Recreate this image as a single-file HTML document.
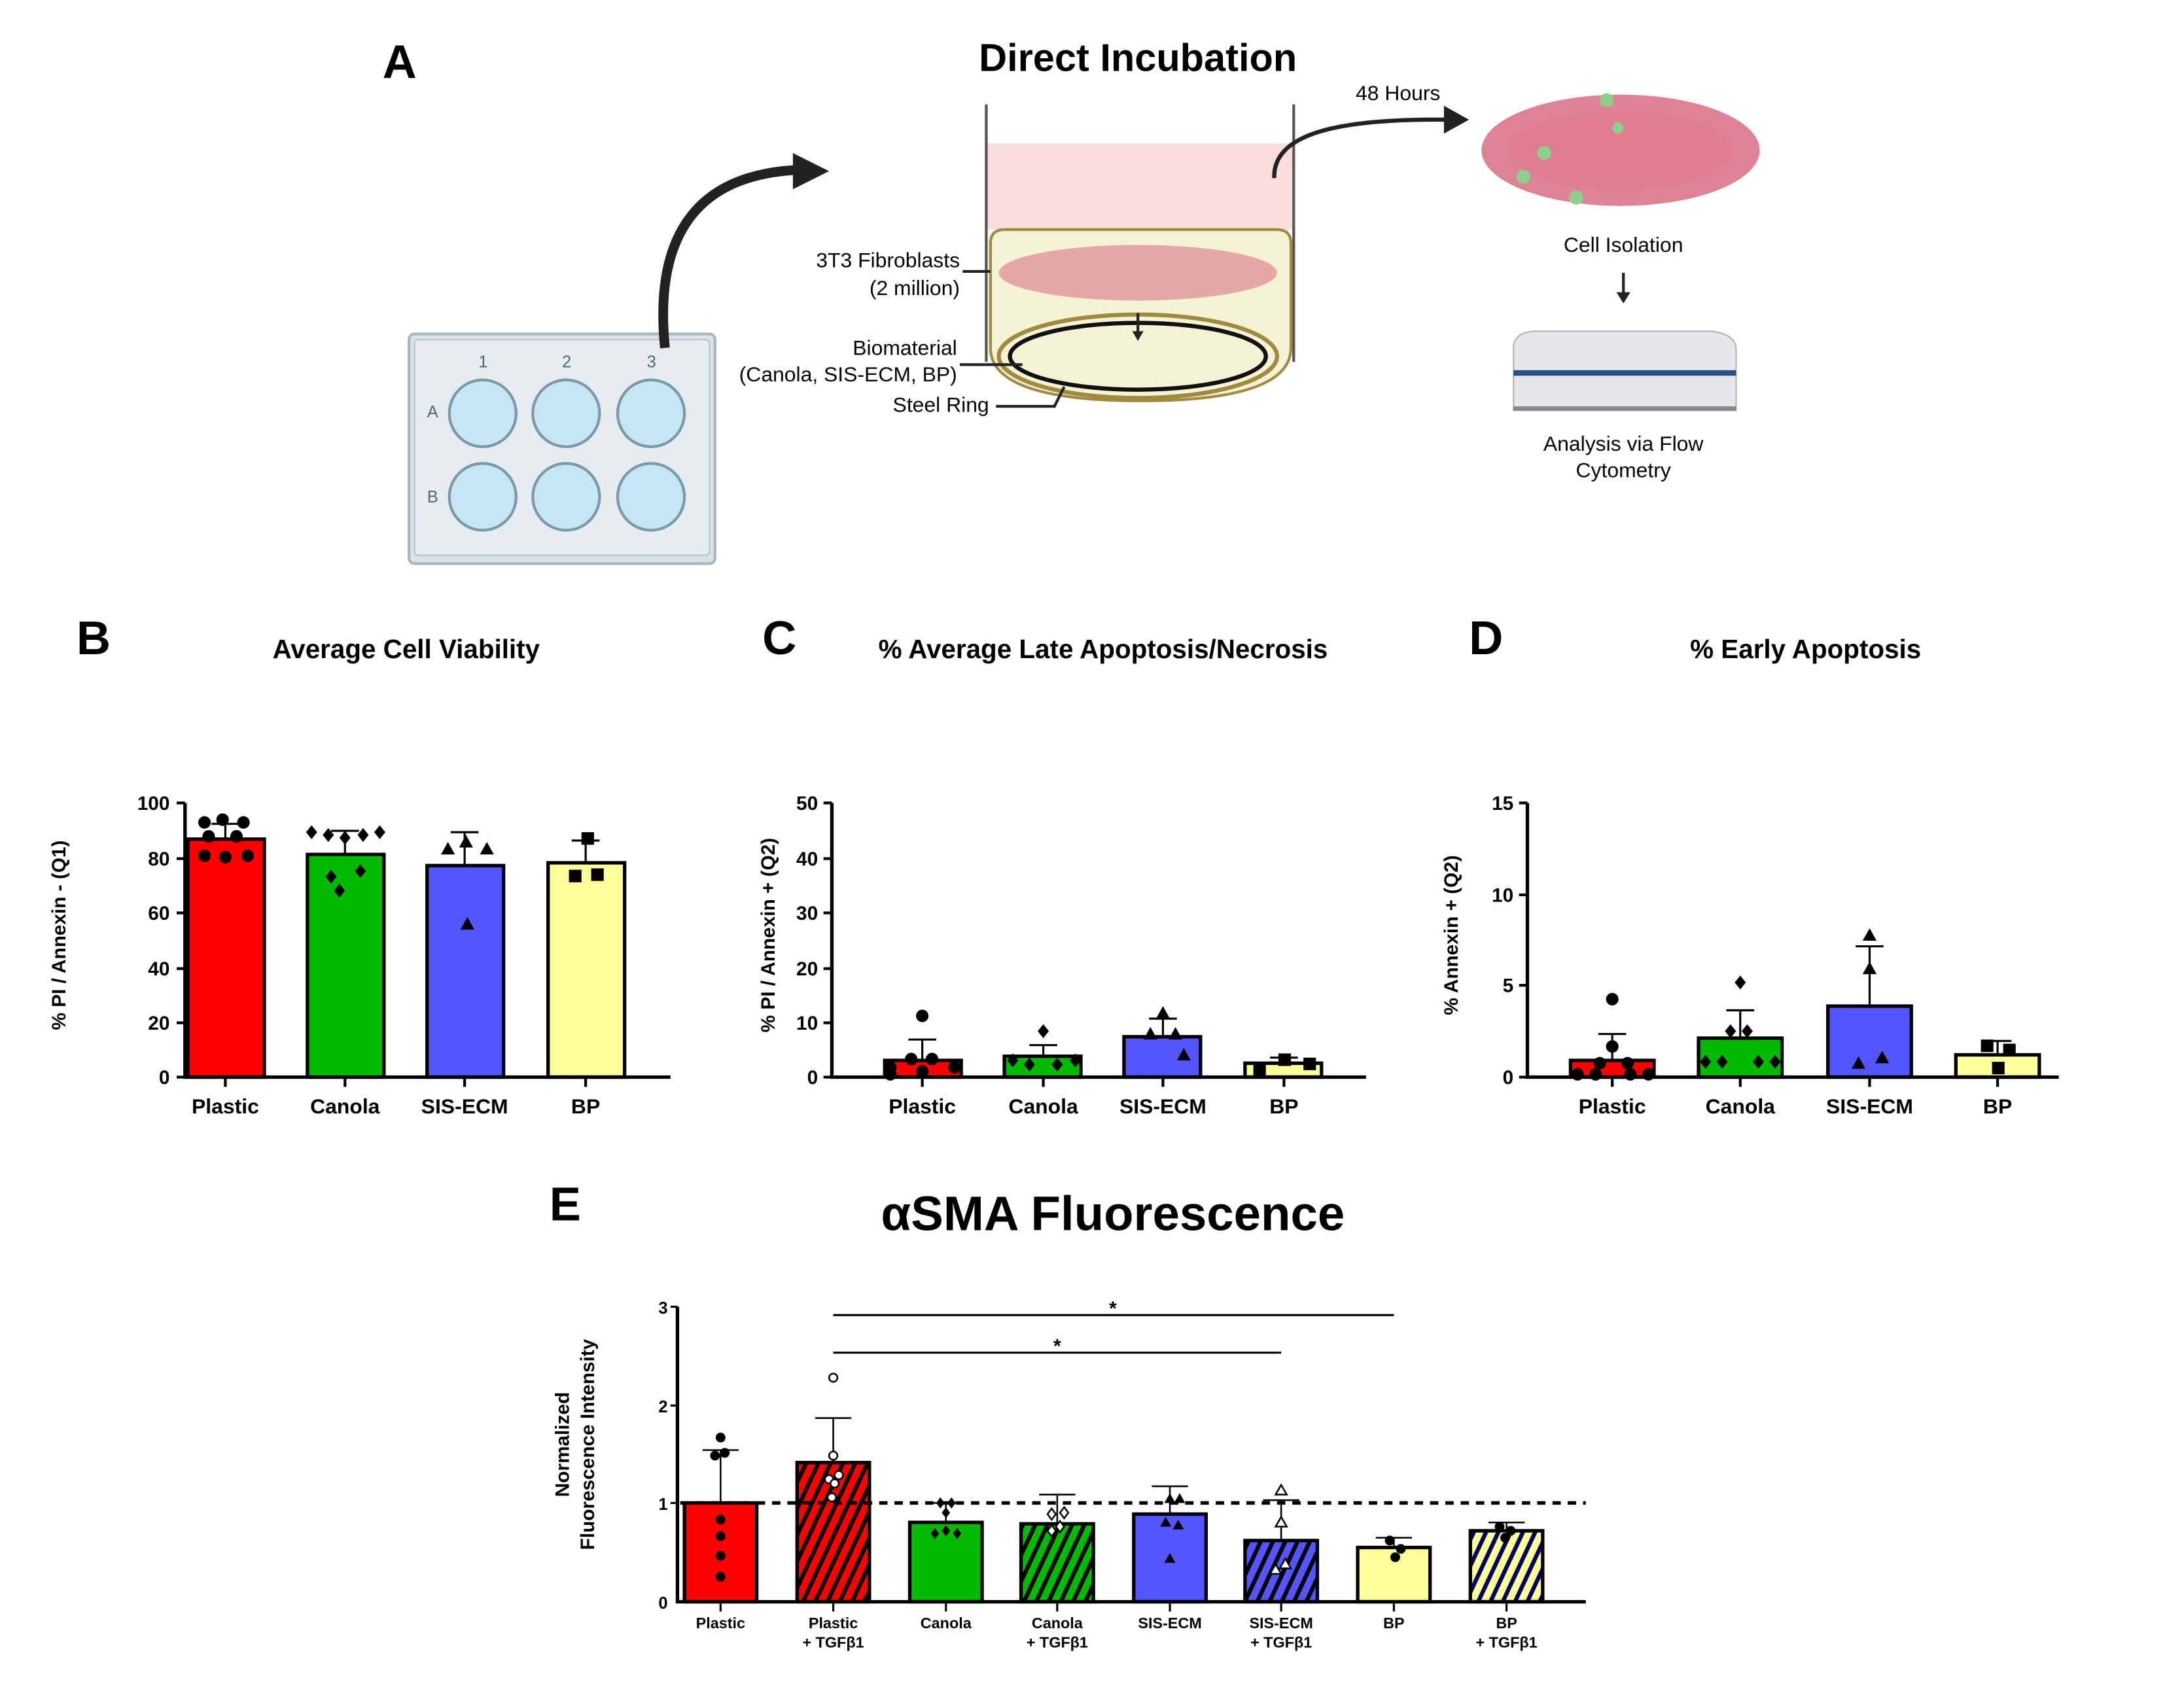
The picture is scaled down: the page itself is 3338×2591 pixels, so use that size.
<!DOCTYPE html>
<html><head><meta charset="utf-8"><style>
html,body{margin:0;padding:0;background:#fff}
svg{display:block}
text{font-family:"Liberation Sans",sans-serif}
</style></head><body>
<svg width="3338" height="2591" viewBox="0 0 1570 1218" preserveAspectRatio="none" xmlns="http://www.w3.org/2000/svg">
<defs>
<pattern id="hR" width="8" height="8" patternUnits="userSpaceOnUse" patternTransform="rotate(25)"><rect width="8" height="8" fill="#ff0000"/><rect width="3" height="8" fill="#000"/></pattern>
<pattern id="hG" width="8" height="8" patternUnits="userSpaceOnUse" patternTransform="rotate(25)"><rect width="8" height="8" fill="#00bb00"/><rect width="3" height="8" fill="#000"/></pattern>
<pattern id="hB" width="8" height="8" patternUnits="userSpaceOnUse" patternTransform="rotate(25)"><rect width="8" height="8" fill="#5555ff"/><rect width="3" height="8" fill="#000"/></pattern>
<pattern id="hY" width="8" height="8" patternUnits="userSpaceOnUse" patternTransform="rotate(25)"><rect width="8" height="8" fill="#ffff99"/><rect width="3" height="8" fill="#000060"/></pattern>
</defs>

<!-- Panel A -->
<text x="275" y="56" font-size="34" font-weight="bold">A</text>
<text x="818" y="51" font-size="28" font-weight="bold" text-anchor="middle">Direct Incubation</text>
<rect x="294" y="240" width="220" height="165" rx="4" fill="#d9e2e6" stroke="#aab8be" stroke-width="2"/>
<rect x="298" y="244" width="212" height="155" rx="3" fill="#e6ecef" stroke="#b5c3c9"/>
<g fill="#c7e6f5" stroke="#7a9aa8" stroke-width="2">
<circle cx="347" cy="297" r="24"/><circle cx="407" cy="297" r="24"/><circle cx="468" cy="297" r="24"/>
<circle cx="347" cy="357" r="24"/><circle cx="407" cy="357" r="24"/><circle cx="468" cy="357" r="24"/>
</g>
<g font-size="12" fill="#4a6a7a"><text x="344" y="264">1</text><text x="404" y="264">2</text><text x="465" y="264">3</text><text x="307" y="300">A</text><text x="307" y="361">B</text></g>
<path d="M478 250 C470 170,500 125,575 122" fill="none" stroke="#222" stroke-width="7"/>
<polygon points="570,110 596,123 570,136" fill="#222"/>
<rect x="710" y="103" width="219" height="62" fill="#f9dcdc"/>
<path d="M712 175 Q712 165 722 165 L918 165 Q928 165 928 175 L928 250 Q928 288 820 288 Q712 288 712 250 Z" fill="#f5f3d6" stroke="#a08a40" stroke-width="2"/>
<ellipse cx="818" cy="256" rx="100" ry="30" fill="#f5f3d6" stroke="#a08a40" stroke-width="3"/>
<ellipse cx="818" cy="256" rx="92" ry="24" fill="none" stroke="#111" stroke-width="3"/>
<line x1="709" y1="75" x2="709" y2="260" stroke="#555" stroke-width="2"/>
<line x1="930" y1="75" x2="930" y2="260" stroke="#555" stroke-width="2"/>
<ellipse cx="818" cy="196" rx="100" ry="20" fill="#d96a80" opacity="0.55"/>
<line x1="818" y1="225" x2="818" y2="240" stroke="#222" stroke-width="2"/><polygon points="814,238 822,238 818,245" fill="#222"/>
<path d="M916 128 C915 100,950 85,1040 86" fill="none" stroke="#222" stroke-width="3"/>
<polygon points="1038,76 1056,86 1038,96" fill="#222"/>
<text x="1005" y="72" font-size="15" text-anchor="middle">48 Hours</text>
<g font-size="15" text-anchor="end">
<text x="690" y="192">3T3 Fibroblasts</text><text x="690" y="212">(2 million)</text>
<text x="688" y="255">Biomaterial</text><text x="688" y="274">(Canola, SIS-ECM, BP)</text>
<text x="711" y="296">Steel Ring</text></g>
<line x1="692" y1="195" x2="712" y2="195" stroke="#222" stroke-width="2"/>
<line x1="690" y1="262" x2="735" y2="262" stroke="#222" stroke-width="2"/>
<path d="M716 292 L758 292 L765 278" fill="none" stroke="#222" stroke-width="2"/>
<ellipse cx="1165" cy="108" rx="100" ry="40" fill="#d25a72" opacity="0.75"/>
<ellipse cx="1165" cy="108" rx="80" ry="28" fill="#e27a8e" opacity="0.6"/>
<circle cx="1155" cy="72" r="5" fill="#8cd08c"/><circle cx="1110" cy="110" r="5" fill="#8cd08c"/><circle cx="1095" cy="127" r="5" fill="#8cd08c"/><circle cx="1133" cy="142" r="5" fill="#8cd08c"/><circle cx="1163" cy="92" r="4" fill="#8cd08c"/>
<text x="1167" y="181" font-size="15" text-anchor="middle">Cell Isolation</text>
<line x1="1167" y1="196" x2="1167" y2="212" stroke="#222" stroke-width="2"/><polygon points="1162,210 1172,210 1167,218" fill="#222"/>
<path d="M1088 248 Q1090 238 1105 238 L1230 238 Q1247 240 1248 250 L1248 295 L1088 295 Z" fill="#e6e7ea" stroke="#b0b3b8"/>
<rect x="1088" y="266" width="160" height="4" fill="#2a5080"/>
<rect x="1088" y="292" width="160" height="3" fill="#888"/>
<text x="1167" y="324" font-size="15" text-anchor="middle">Analysis via Flow</text>
<text x="1167" y="343" font-size="15" text-anchor="middle">Cytometry</text>

<!-- Panel B -->
<text x="55" y="470" font-size="34" font-weight="bold">B</text>
<text x="292" y="473" font-size="19" font-weight="bold" text-anchor="middle">Average Cell Viability</text>
<g stroke="#000" stroke-width="2.5">
<rect x="135" y="603" width="55" height="171" fill="#ff0000"/>
<rect x="221" y="614" width="55" height="160" fill="#00bb00"/>
<rect x="307" y="622" width="55" height="152" fill="#5555ff"/>
<rect x="394" y="620" width="55" height="154" fill="#ffff99"/>
</g>
<g stroke="#000" stroke-width="1.5" fill="none">
<path d="M162 603V592M152 592H172M248 614V597M238 597H258M334 622V598M324 598H344M421 620V604M411 604H431"/>
</g>
<g fill="#000">
<circle cx="147" cy="591" r="4.5"/><circle cx="160" cy="589" r="4.5"/><circle cx="175" cy="591" r="4.5"/><circle cx="150" cy="601" r="4.5"/><circle cx="170" cy="601" r="4.5"/><circle cx="147" cy="615" r="4.5"/><circle cx="162" cy="616" r="4.5"/><circle cx="178" cy="615" r="4.5"/>
<g transform="translate(224 598)"><path d="M0-5L4 0 0 5-4 0Z"/></g><g transform="translate(236 600)"><path d="M0-5L4 0 0 5-4 0Z"/></g><g transform="translate(248 602)"><path d="M0-5L4 0 0 5-4 0Z"/></g><g transform="translate(261 600)"><path d="M0-5L4 0 0 5-4 0Z"/></g><g transform="translate(273 598)"><path d="M0-5L4 0 0 5-4 0Z"/></g><g transform="translate(238 630)"><path d="M0-5L4 0 0 5-4 0Z"/></g><g transform="translate(259 626)"><path d="M0-5L4 0 0 5-4 0Z"/></g><g transform="translate(244 640)"><path d="M0-5L4 0 0 5-4 0Z"/></g>
<path d="M317 614l5-9 5 9z"/><path d="M330 609l5-9 5 9z"/><path d="M345 614l5-9 5 9z"/><path d="M331 668l5-9 5 9z"/>
<rect x="418" y="598" width="9" height="9"/><rect x="409" y="625" width="9" height="9"/><rect x="425" y="624" width="9" height="9"/>
</g>
<g stroke="#000" stroke-width="2.5" fill="none"><path d="M133 577V774H482"/></g>
<g stroke="#000" stroke-width="2"><path d="M127 577H133M127 617H133M127 656H133M127 696H133M127 735H133M127 774H133M162 774V781M248 774V781M334 774V781M421 774V781"/></g>
<g font-size="14" font-weight="bold" text-anchor="end"><text x="122" y="582">100</text><text x="122" y="622">80</text><text x="122" y="661">60</text><text x="122" y="701">40</text><text x="122" y="740">20</text><text x="122" y="779">0</text></g>
<g font-size="15" font-weight="bold" text-anchor="middle"><text x="162" y="800">Plastic</text><text x="248" y="800">Canola</text><text x="334" y="800">SIS-ECM</text><text x="421" y="800">BP</text></g>
<text transform="translate(47 672) rotate(-90)" font-size="14" font-weight="bold" text-anchor="middle">% PI / Annexin - (Q1)</text>

<!-- Panel C -->
<text x="548" y="470" font-size="34" font-weight="bold">C</text>
<text x="793" y="473" font-size="19" font-weight="bold" text-anchor="middle">% Average Late Apoptosis/Necrosis</text>
<g stroke="#000" stroke-width="2.5">
<rect x="636" y="762" width="55" height="12" fill="#ff0000"/>
<rect x="722" y="759" width="55" height="15" fill="#00bb00"/>
<rect x="808" y="745" width="55" height="29" fill="#5555ff"/>
<rect x="895" y="764" width="55" height="10" fill="#ffff99"/>
</g>
<g stroke="#000" stroke-width="1.5" fill="none"><path d="M663 762V747M653 747H673M750 759V751M740 751H760M836 745V732M826 732H846M923 764V760M913 760H933"/></g>
<g fill="#000">
<circle cx="663" cy="730" r="4.5"/><circle cx="655" cy="761" r="4.5"/><circle cx="670" cy="761" r="4.5"/><circle cx="640" cy="767" r="4.5"/><circle cx="686" cy="767" r="4.5"/><circle cx="640" cy="772" r="4.5"/><circle cx="663" cy="770" r="4.5"/>
<g transform="translate(750 741)"><path d="M0-5L4 0 0 5-4 0Z"/></g><g transform="translate(728 762)"><path d="M0-5L4 0 0 5-4 0Z"/></g><g transform="translate(740 765)"><path d="M0-5L4 0 0 5-4 0Z"/></g><g transform="translate(760 765)"><path d="M0-5L4 0 0 5-4 0Z"/></g><g transform="translate(773 762)"><path d="M0-5L4 0 0 5-4 0Z"/></g>
<path d="M831 732l5-9 5 9z"/><path d="M822 747l5-9 5 9z"/><path d="M840 747l5-9 5 9z"/><path d="M846 762l5-9 5 9z"/>
<rect x="919" y="757" width="9" height="9"/><rect x="901" y="765" width="9" height="9"/><rect x="937" y="760" width="9" height="9"/>
</g>
<g stroke="#000" stroke-width="2.5" fill="none"><path d="M598 577V774H982"/></g>
<g stroke="#000" stroke-width="2"><path d="M592 577H598M592 617H598M592 656H598M592 696H598M592 735H598M592 774H598M663 774V781M750 774V781M836 774V781M923 774V781"/></g>
<g font-size="14" font-weight="bold" text-anchor="end"><text x="588" y="582">50</text><text x="588" y="622">40</text><text x="588" y="661">30</text><text x="588" y="701">20</text><text x="588" y="740">10</text><text x="588" y="779">0</text></g>
<g font-size="15" font-weight="bold" text-anchor="middle"><text x="663" y="800">Plastic</text><text x="750" y="800">Canola</text><text x="836" y="800">SIS-ECM</text><text x="923" y="800">BP</text></g>
<text transform="translate(557 672) rotate(-90)" font-size="14" font-weight="bold" text-anchor="middle">% PI / Annexin + (Q2)</text>

<!-- Panel D -->
<text x="1056" y="470" font-size="34" font-weight="bold">D</text>
<text x="1298" y="473" font-size="19" font-weight="bold" text-anchor="middle">% Early Apoptosis</text>
<g stroke="#000" stroke-width="2.5">
<rect x="1129" y="762" width="60" height="12" fill="#ff0000"/>
<rect x="1221" y="746" width="60" height="28" fill="#00bb00"/>
<rect x="1314" y="723" width="60" height="51" fill="#5555ff"/>
<rect x="1406" y="758" width="60" height="16" fill="#ffff99"/>
</g>
<g stroke="#000" stroke-width="1.5" fill="none"><path d="M1159 762V743M1149 743H1169M1251 746V726M1241 726H1261M1344 723V680M1334 680H1354M1436 758V748M1426 748H1446"/></g>
<g fill="#000">
<circle cx="1159" cy="718" r="4.5"/><circle cx="1159" cy="752" r="4.5"/><circle cx="1150" cy="764" r="4.5"/><circle cx="1170" cy="764" r="4.5"/><circle cx="1134" cy="772" r="4.5"/><circle cx="1147" cy="772" r="4.5"/><circle cx="1172" cy="772" r="4.5"/><circle cx="1185" cy="772" r="4.5"/>
<g transform="translate(1251 706)"><path d="M0-5L4 0 0 5-4 0Z"/></g><g transform="translate(1244 741)"><path d="M0-5L4 0 0 5-4 0Z"/></g><g transform="translate(1256 741)"><path d="M0-5L4 0 0 5-4 0Z"/></g><g transform="translate(1226 763)"><path d="M0-5L4 0 0 5-4 0Z"/></g><g transform="translate(1238 763)"><path d="M0-5L4 0 0 5-4 0Z"/></g><g transform="translate(1264 763)"><path d="M0-5L4 0 0 5-4 0Z"/></g><g transform="translate(1276 763)"><path d="M0-5L4 0 0 5-4 0Z"/></g>
<path d="M1339 676l5-9 5 9z"/><path d="M1339 700l5-9 5 9z"/><path d="M1331 768l5-9 5 9z"/><path d="M1348 764l5-9 5 9z"/>
<rect x="1424" y="747" width="9" height="9"/><rect x="1440" y="750" width="9" height="9"/><rect x="1432" y="763" width="9" height="9"/>
</g>
<g stroke="#000" stroke-width="2.5" fill="none"><path d="M1098 577V774H1480"/></g>
<g stroke="#000" stroke-width="2"><path d="M1092 577H1098M1092 643H1098M1092 708H1098M1092 774H1098M1159 774V781M1251 774V781M1344 774V781M1436 774V781"/></g>
<g font-size="14" font-weight="bold" text-anchor="end"><text x="1088" y="582">15</text><text x="1088" y="648">10</text><text x="1088" y="713">5</text><text x="1088" y="779">0</text></g>
<g font-size="15" font-weight="bold" text-anchor="middle"><text x="1159" y="800">Plastic</text><text x="1251" y="800">Canola</text><text x="1344" y="800">SIS-ECM</text><text x="1436" y="800">BP</text></g>
<text transform="translate(1048 672) rotate(-90)" font-size="14" font-weight="bold" text-anchor="middle">% Annexin + (Q2)</text>

<!-- Panel E -->
<text x="395" y="877" font-size="34" font-weight="bold">E</text>
<text x="800" y="884" font-size="35" font-weight="bold" text-anchor="middle">αSMA Fluorescence</text>
<g stroke="#000" stroke-width="2.5">
<rect x="492" y="1080" width="52" height="71" fill="#ff0000"/>
<rect x="573" y="1051" width="52" height="100" fill="url(#hR)"/>
<rect x="654" y="1094" width="52" height="57" fill="#00bb00"/>
<rect x="734" y="1095" width="52" height="56" fill="url(#hG)"/>
<rect x="815" y="1088" width="52" height="63" fill="#5555ff"/>
<rect x="895" y="1107" width="52" height="44" fill="url(#hB)"/>
<rect x="976" y="1112" width="52" height="39" fill="#ffff99"/>
<rect x="1057" y="1100" width="52" height="51" fill="url(#hY)"/>
</g>
<line x1="489" y1="1080" x2="1140" y2="1080" stroke="#000" stroke-width="2.5" stroke-dasharray="6,5"/>
<g stroke="#000" stroke-width="1.2" fill="none"><path d="M518 1080V1042M505 1042H531M599 1051V1019M586 1019H612M680 1094V1080M667 1080H693M760 1095V1074M747 1074H773M841 1088V1068M828 1068H854M921 1107V1078M908 1078H934M1002 1112V1105M989 1105H1015M1083 1100V1094M1070 1094H1096"/></g>
<g fill="#000">
<circle cx="518" cy="1033" r="3.5"/><circle cx="514" cy="1046" r="3.5"/><circle cx="521" cy="1044" r="3.5"/><circle cx="518" cy="1092" r="3.5"/><circle cx="518" cy="1104" r="3.5"/><circle cx="518" cy="1118" r="3.5"/><circle cx="518" cy="1133" r="3.5"/>
<g transform="translate(676 1080)"><path d="M0-4L3 0 0 4-3 0Z"/></g><g transform="translate(680 1087)"><path d="M0-4L3 0 0 4-3 0Z"/></g><g transform="translate(684 1080)"><path d="M0-4L3 0 0 4-3 0Z"/></g><g transform="translate(672 1102)"><path d="M0-4L3 0 0 4-3 0Z"/></g><g transform="translate(680 1100)"><path d="M0-4L3 0 0 4-3 0Z"/></g><g transform="translate(688 1102)"><path d="M0-4L3 0 0 4-3 0Z"/></g>
<path d="M837 1080l4-7 4 7z"/><path d="M844 1080l4-7 4 7z"/><path d="M834 1097l4-7 4 7z"/><path d="M843 1099l4-7 4 7z"/><path d="M837 1123l4-7 4 7z"/>
<circle cx="999" cy="1107" r="3.5"/><circle cx="1007" cy="1113" r="3.5"/><circle cx="1003" cy="1119" r="3.5"/>
<circle cx="1078" cy="1097" r="3.5"/><circle cx="1086" cy="1100" r="3.5"/><circle cx="1082" cy="1105" r="3.5"/>
</g>
<g fill="#fff" stroke="#000" stroke-width="1.2">
<circle cx="599" cy="990" r="3"/><circle cx="599" cy="1046" r="3"/><circle cx="596" cy="1063" r="3"/><circle cx="603" cy="1060" r="3"/><circle cx="600" cy="1066" r="3"/><circle cx="598" cy="1076" r="3"/>
<g transform="translate(756 1088)"><path d="M0-4L3 0 0 4-3 0Z"/></g><g transform="translate(765 1087)"><path d="M0-4L3 0 0 4-3 0Z"/></g><g transform="translate(756 1100)"><path d="M0-4L3 0 0 4-3 0Z"/></g><g transform="translate(762 1097)"><path d="M0-4L3 0 0 4-3 0Z"/></g>
<path d="M917 1074l4-7 4 7z"/><path d="M917 1097l4-7 4 7z"/><path d="M913 1131l4-7 4 7z"/><path d="M920 1127l4-7 4 7z"/>
</g>
<g stroke="#000" stroke-width="1.5"><path d="M599 945H1002M599 972H921"/></g>
<text x="800" y="945" font-size="14" font-weight="bold" text-anchor="middle">*</text>
<text x="760" y="972" font-size="14" font-weight="bold" text-anchor="middle">*</text>
<g stroke="#000" stroke-width="2.5" fill="none"><path d="M487 939V1151H1140"/></g>
<g stroke="#000" stroke-width="1.5"><path d="M482 939H487M482 1010H487M482 1080H487M518 1151V1158M599 1151V1158M680 1151V1158M760 1151V1158M841 1151V1158M921 1151V1158M1002 1151V1158M1083 1151V1158"/></g>
<g font-size="12" font-weight="bold" text-anchor="end"><text x="480" y="944">3</text><text x="480" y="1015">2</text><text x="480" y="1085">1</text><text x="480" y="1156">0</text></g>
<g font-size="11" font-weight="bold" text-anchor="middle">
<text x="518" y="1170">Plastic</text><text x="599" y="1170">Plastic</text><text x="599" y="1184">+ TGFβ1</text>
<text x="680" y="1170">Canola</text><text x="760" y="1170">Canola</text><text x="760" y="1184">+ TGFβ1</text>
<text x="841" y="1170">SIS-ECM</text><text x="921" y="1170">SIS-ECM</text><text x="921" y="1184">+ TGFβ1</text>
<text x="1002" y="1170">BP</text><text x="1083" y="1170">BP</text><text x="1083" y="1184">+ TGFβ1</text></g>
<text transform="translate(409 1038) rotate(-90)" font-size="14" font-weight="bold" text-anchor="middle">Normalized</text>
<text transform="translate(427 1038) rotate(-90)" font-size="14" font-weight="bold" text-anchor="middle">Fluorescence Intensity</text>
</svg>
</body></html>
